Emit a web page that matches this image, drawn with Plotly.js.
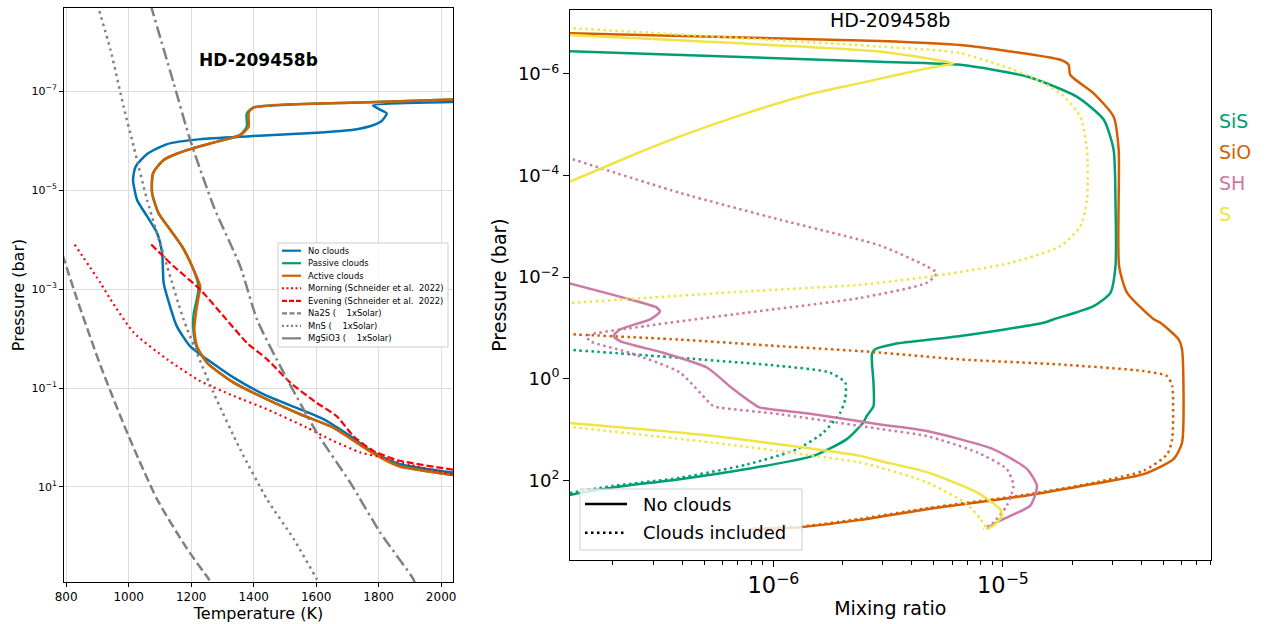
<!DOCTYPE html>
<html><head><meta charset="utf-8">
<script src="https://cdn.plot.ly/plotly-3.0.1.min.js"></script>
<style>body{margin:0;background:#fff}</style>
</head><body><div id="chart" style="width:1272px;height:624px"></div>
<script>
// ---------- Left panel: temperature (K) vs log10 pressure (bar) ----------
const noCloudsT    = [2038, 1782, 1800, 1826, 1810, 1782, 1720, 1602, 1389, 1229, 1123, 1059, 1022, 1014, 1027, 1059, 1091, 1107, 1112, 1130, 1154, 1197, 1251, 1336, 1443, 1549, 1623, 1709, 1783, 1869, 2039];
const noCloudsLogP = [-6.78, -6.71, -6.64, -6.55, -6.40, -6.31, -6.22, -6.16, -6.09, -6.03, -5.93, -5.73, -5.47, -5.21, -4.80, -4.47, -4.13, -3.73, -3.12, -2.70, -2.25, -1.84, -1.58, -1.21, -0.84, -0.57, -0.37, -0.03, 0.30, 0.54, 0.71];
const passiveT     = [2039, 1794, 1400, 1378, 1378, 1355, 1283, 1187, 1112, 1078, 1075, 1096, 1133, 1171, 1203, 1224, 1218, 1208, 1207, 1217, 1251, 1336, 1443, 1549, 1655, 1765, 1855, 1875, 2039];
const passiveLogP  = [-6.83, -6.78, -6.67, -6.55, -6.28, -6.11, -5.98, -5.81, -5.61, -5.34, -4.94, -4.53, -4.20, -3.86, -3.46, -3.05, -2.79, -2.50, -2.18, -1.84, -1.51, -1.11, -0.77, -0.47, -0.20, 0.24, 0.54, 0.59, 0.76];
const activeT      = [2039, 1794, 1400, 1384, 1384, 1357, 1283, 1187, 1112, 1078, 1075, 1096, 1133, 1171, 1203, 1229, 1222, 1215, 1210, 1219, 1251, 1336, 1443, 1549, 1655, 1762, 1847, 1869, 2039];
const activeLogP   = [-6.83, -6.78, -6.67, -6.55, -6.28, -6.11, -5.98, -5.81, -5.61, -5.34, -4.94, -4.53, -4.20, -3.86, -3.46, -3.05, -2.79, -2.50, -2.18, -1.84, -1.51, -1.11, -0.77, -0.47, -0.20, 0.24, 0.54, 0.59, 0.76];
const morningT     = [827, 910, 942, 1016, 1123, 1229, 1336, 1443, 1570, 1655, 1741, 1815, 1900, 2039];
const morningLogP  = [-3.90, -3.12, -2.79, -2.12, -1.58, -1.14, -0.84, -0.57, -0.20, 0.07, 0.30, 0.41, 0.55, 0.75];
const eveningT     = [1072, 1144, 1229, 1304, 1379, 1443, 1517, 1602, 1666, 1719, 1783, 1869, 2039];
const eveningLogP  = [-3.90, -3.46, -2.99, -2.45, -1.91, -1.58, -1.11, -0.70, -0.43, -0.03, 0.27, 0.47, 0.65];
const na2sT        = [788, 835, 910, 995, 1091, 1187, 1256, 1265];
const na2sLogP     = [-3.70, -2.79, -1.45, -0.10, 1.25, 2.25, 2.86, 2.95];
const mnsT         = [900, 942, 984, 1016, 1059, 1123, 1176, 1272, 1357, 1443, 1528, 1602, 1610];
const mnsLogP      = [-8.75, -7.83, -6.68, -5.88, -4.80, -3.46, -2.38, -0.90, 0.24, 1.25, 2.05, 2.86, 2.95];
const mgsio3T      = [1070, 1144, 1197, 1272, 1357, 1411, 1496, 1602, 1709, 1805, 1911, 1916];
const mgsio3LogP   = [-8.75, -7.16, -6.01, -4.67, -3.46, -2.38, -1.31, -0.10, 0.91, 1.92, 2.86, 2.95];

const leftNames  = ['No clouds', 'Passive clouds', 'Active clouds', 'Morning (Schneider et al.  2022)',
                    'Evening (Schneider et al.  2022)', 'Na2S (    1xSolar)', 'MnS (    1xSolar)', 'MgSiO3 (    1xSolar)'];

// ---------- Right panel: log10 mixing ratio vs log10 pressure (bar) ----------
const sisSolidX  = [-6.95, -5.535, -5.186, -4.895, -4.677, -4.561, -4.518, -4.510, -4.510, -4.532, -4.605, -4.779, -4.823, -5.186, -5.477, -5.557, -5.571, -5.564, -5.564, -5.593, -5.608, -5.680, -5.826, -6.116, -6.407, -6.697, -6.95];
const sisSolidY  = [-6.46, -6.24, -6.18, -5.95, -5.55, -5.10, -4.51, -3.52, -2.21, -1.69, -1.43, -1.17, -1.10, -0.84, -0.68, -0.58, -0.48, 0.08, 0.54, 0.73, 0.86, 1.19, 1.52, 1.78, 1.98, 2.14, 2.34];
const sisDotX    = [-6.95, -6.407, -5.971, -5.753, -5.687, -5.687, -5.709, -5.782, -5.898, -6.116, -6.407, -6.697, -6.95];
const sisDotY    = [-0.59, -0.41, -0.25, -0.12, 0.08, 0.40, 0.67, 1.06, 1.39, 1.69, 1.95, 2.11, 2.30];
const sioSolidX  = [-6.95, -5.535, -5.186, -4.750, -4.714, -4.707, -4.605, -4.518, -4.496, -4.494, -4.459, -4.343, -4.314, -4.234, -4.220, -4.220, -4.256, -4.387, -4.605, -4.895, -5.331, -5.622, -5.898, -6.102];
const sioSolidY  = [-6.81, -6.65, -6.57, -6.28, -6.18, -5.98, -5.62, -5.16, -4.51, -2.21, -1.69, -1.17, -1.10, -0.77, -0.58, 1.26, 1.58, 1.88, 2.07, 2.30, 2.57, 2.78, 2.93, 2.96];
const sioDotX    = [-6.95, -6.407, -5.971, -5.578, -5.186, -4.750, -4.387, -4.285, -4.263, -4.263, -4.285, -4.387, -4.605, -4.895, -5.331, -5.622, -5.898, -6.102];
const sioDotY    = [-0.89, -0.77, -0.64, -0.53, -0.38, -0.28, -0.15, -0.05, 0.14, 1.19, 1.49, 1.81, 2.05, 2.28, 2.55, 2.76, 2.92, 2.95];
const shSolidX   = [-6.95, -6.625, -6.508, -6.494, -6.537, -6.668, -6.697, -6.668, -6.480, -6.290, -6.174, -6.072, -6.058, -5.826, -5.535, -5.331, -5.041, -4.895, -4.852, -4.881, -4.968, -5.041, -5.070];
const shSolidY   = [-1.95, -1.56, -1.40, -1.32, -1.17, -0.97, -0.84, -0.74, -0.51, -0.22, 0.21, 0.54, 0.57, 0.70, 0.90, 1.03, 1.39, 1.78, 2.11, 2.50, 2.70, 2.86, 2.96];
const shDotX     = [-6.95, -6.407, -5.971, -5.535, -5.331, -5.288, -5.331, -5.622, -6.116, -6.552, -6.813, -6.799, -6.625, -6.407, -6.262, -6.232, -5.971, -5.535, -5.331, -5.113, -4.983, -4.954, -4.983, -5.041, -5.085];
const shDotY     = [-4.43, -3.66, -3.13, -2.62, -2.21, -2.08, -1.89, -1.59, -1.30, -1.04, -0.84, -0.74, -0.51, -0.12, 0.54, 0.57, 0.70, 0.99, 1.13, 1.45, 1.78, 2.11, 2.50, 2.83, 2.96];
const sSolidX    = [-6.95, -5.535, -5.331, -5.215, -5.331, -5.622, -5.826, -6.116, -6.407, -6.625, -6.95, null, -6.95, -6.262, -5.622, -5.535, -5.331, -5.113, -5.012, -5.004, -5.041, -5.070];
const sSolidY    = [-6.78, -6.44, -6.31, -6.21, -6.11, -5.82, -5.62, -5.23, -4.77, -4.38, -3.76, null, 0.85, 1.13, 1.52, 1.62, 1.84, 2.24, 2.57, 2.70, 2.89, 2.96];
const sDotX      = [-6.95, -5.535, -5.186, -4.895, -4.750, -4.663, -4.634, -4.634, -4.663, -4.750, -4.968, -5.288, -5.622, -6.116, -6.95, null, -6.95, -6.262, -5.622, -5.535, -5.331, -5.157, -5.099, -5.070];
const sDotY      = [-6.92, -6.54, -6.41, -5.98, -5.62, -5.16, -4.51, -3.52, -3.00, -2.61, -2.28, -2.03, -1.85, -1.72, -1.47, null, 0.92, 1.26, 1.65, 1.75, 2.04, 2.47, 2.76, 2.96];

const species = ['SiS', 'SiO', 'SH', 'S'];
const speciesColors = ['#009E73', '#D55E00', '#CC79A7', '#F0E442'];
const rightLegendNames = ['No clouds', 'Clouds included'];

const leftYTicks  = [1e-7, 1e-5, 1e-3, 1e-1, 1e1];
const leftYText   = ['10<sup>−7</sup>', '10<sup>−5</sup>', '10<sup>−3</sup>', '10<sup>−1</sup>', '10<sup>1</sup>'];
const rightYTicks = [1e-6, 1e-4, 1e-2, 1, 1e2];
const rightYText  = ['10<sup>−6</sup>', '10<sup>−4</sup>', '10<sup>−2</sup>', '10<sup>0</sup>', '10<sup>2</sup>'];

const pw = a => a.map(v => v === null ? null : Math.pow(10, v));

const BLUE = '#0072B2', GREEN = '#009E73', ORANGE = '#D55E00', RED = '#FF0000', GRAY = '#808080';
const leftStyles = [
  {c: BLUE, d: 'solid', w: 2.5}, {c: GREEN, d: 'solid', w: 2.5}, {c: ORANGE, d: 'solid', w: 2.5},
  {c: RED, d: '2px,3.5px', w: 2.2}, {c: RED, d: '7px,3px', w: 2.2},
  {c: GRAY, d: '9px,4px', w: 2.5}, {c: GRAY, d: '2.5px,4px', w: 2.5}, {c: GRAY, d: '12px,4px,2.5px,4px', w: 2.5}
];
const leftData = [[noCloudsT, noCloudsLogP], [passiveT, passiveLogP], [activeT, activeLogP],
  [morningT, morningLogP], [eveningT, eveningLogP], [na2sT, na2sLogP], [mnsT, mnsLogP], [mgsio3T, mgsio3LogP]];

const traces = leftData.map((d, i) => ({
  type: 'scatter', mode: 'lines', name: leftNames[i], x: d[0], y: pw(d[1]), xaxis: 'x', yaxis: 'y', showlegend: false,
  line: {color: leftStyles[i].c, dash: leftStyles[i].d, width: leftStyles[i].w, shape: 'spline', smoothing: 0.6}
}));

function R(x, y, color, dash) {
  return {type: 'scatter', mode: 'lines', x: pw(x), y: pw(y), xaxis: 'x2', yaxis: 'y2', showlegend: false,
          connectgaps: false, line: {color: color, dash: dash, width: 2.5, shape: 'spline', smoothing: 0.6}};
}
const RDOT = '2.5px,3.5px';
traces.push(
  R(sisSolidX, sisSolidY, speciesColors[0], 'solid'),
  R(sisDotX, sisDotY, speciesColors[0], RDOT),
  R(sioSolidX, sioSolidY, speciesColors[1], 'solid'),
  R(sioDotX, sioDotY, speciesColors[1], RDOT),
  R(shSolidX, shSolidY, speciesColors[2], 'solid'),
  R(shDotX, shDotY, speciesColors[2], RDOT),
  R(sSolidX, sSolidY, speciesColors[3], 'solid'),
  R(sDotX, sDotY, speciesColors[3], RDOT)
);

// ---------- layout helpers (pixel -> paper) ----------
const W = 1272, H = 624;
const px = v => v / W, py = v => 1 - v / H;

const shapes = [];
const annotations = [
  {text: '<b>HD-209458b</b>', x: px(258), y: py(60), xref: 'paper', yref: 'paper', xanchor: 'center', yanchor: 'middle',
   showarrow: false, font: {size: 17, color: 'black'}},
  {text: 'HD-209458b', x: px(890), y: py(20), xref: 'paper', yref: 'paper', xanchor: 'center', yanchor: 'middle',
   showarrow: false, font: {size: 19, color: 'black'}}
];
const labelPy = [121, 152, 183, 214];
species.forEach((s, i) => annotations.push({text: s, x: px(1217), y: py(labelPy[i]), xref: 'paper', yref: 'paper',
  xanchor: 'left', yanchor: 'middle', showarrow: false, font: {size: 19, color: speciesColors[i]}}));

// left legend
shapes.push({type: 'rect', xref: 'paper', yref: 'paper', x0: px(278), x1: px(448), y0: py(243), y1: py(347),
  fillcolor: 'rgba(255,255,255,0.8)', line: {color: '#cccccc', width: 1}, layer: 'above'});
leftNames.forEach((n, i) => {
  const yy = 250.7 + i * 12.52;
  shapes.push({type: 'line', xref: 'paper', yref: 'paper', x0: px(282), x1: px(301), y0: py(yy), y1: py(yy),
    line: {color: leftStyles[i].c, dash: i > 2 ? '4px,2.5px' : 'solid', width: 2.2}, layer: 'above'});
  annotations.push({text: n, x: px(306), y: py(yy), xref: 'paper', yref: 'paper', xanchor: 'left', yanchor: 'middle',
    showarrow: false, font: {size: 8.4, color: 'black'}});
});
// finer swatch dashes matching line styles
const swatchDash = ['solid', 'solid', 'solid', '2px,2.5px', '5px,2px', '5px,2.5px', '2px,2.5px', 'solid'];
shapes.forEach((s, k) => { if (k >= 1 && s.type === 'line') s.line.dash = swatchDash[k - 1]; });

// right legend
shapes.push({type: 'rect', xref: 'paper', yref: 'paper', x0: px(580), x1: px(802), y0: py(489), y1: py(550),
  fillcolor: 'rgba(255,255,255,0.8)', line: {color: '#cccccc', width: 1}, layer: 'above'});
const rightDash = ['solid', RDOT];
rightLegendNames.forEach((n, i) => {
  const yy = 504 + i * 28.7;
  shapes.push({type: 'line', xref: 'paper', yref: 'paper', x0: px(585), x1: px(627), y0: py(yy), y1: py(yy),
    line: {color: 'black', dash: rightDash[i], width: 2.5}, layer: 'above'});
  annotations.push({text: n, x: px(641), y: py(yy), xref: 'paper', yref: 'paper', xanchor: 'left', yanchor: 'middle',
    showarrow: false, font: {size: 18, color: 'black'}});
});

const axBase = {showline: true, mirror: true, linecolor: 'black', linewidth: 1, ticks: 'outside',
                tickcolor: 'black', zeroline: false};

const layout = {
  width: W, height: H, margin: {l: 0, r: 0, t: 0, b: 0},
  paper_bgcolor: 'white', plot_bgcolor: 'white',
  font: {family: 'DejaVu Sans', color: 'black'},
  showlegend: false,
  xaxis: Object.assign({}, axBase, {domain: [px(64), px(453)], anchor: 'y', range: [793, 2038],
    tick0: 800, dtick: 200, ticklen: 4, showgrid: true, gridcolor: '#dddddd', gridwidth: 1,
    tickfont: {size: 12}, title: {text: 'Temperature (K)', font: {size: 16}, standoff: 0}}),
  yaxis: Object.assign({}, axBase, {domain: [py(582), py(8)], anchor: 'x', type: 'log', range: [2.92, -8.68],
    tickmode: 'array', tickvals: leftYTicks, ticktext: leftYText, ticklen: 4, showgrid: true, gridcolor: '#dddddd',
    tickfont: {size: 11}, title: {text: 'Pressure (bar)', font: {size: 16}, standoff: 2}}),
  xaxis2: Object.assign({}, axBase, {domain: [px(570), px(1210.5)], anchor: 'y2', type: 'log', range: [-6.886, -4.096],
    dtick: 1, exponentformat: 'power', ticklen: 6, showgrid: false,
    minor: {ticks: 'outside', ticklen: 3.5, tickcolor: 'black', dtick: 'D1', showgrid: false},
    tickfont: {size: 18}, title: {text: 'Mixing ratio', font: {size: 19}, standoff: 4}}),
  yaxis2: Object.assign({}, axBase, {domain: [py(560), py(10)], anchor: 'x2', type: 'log', range: [3.57, -7.26],
    tickmode: 'array', tickvals: rightYTicks, ticktext: rightYText, ticklen: 6, showgrid: false,
    tickfont: {size: 18}, title: {text: 'Pressure (bar)', font: {size: 19}, standoff: 6}}),
  shapes: shapes,
  annotations: annotations
};

Plotly.newPlot('chart', traces, layout, {staticPlot: true});
</script></body></html>
